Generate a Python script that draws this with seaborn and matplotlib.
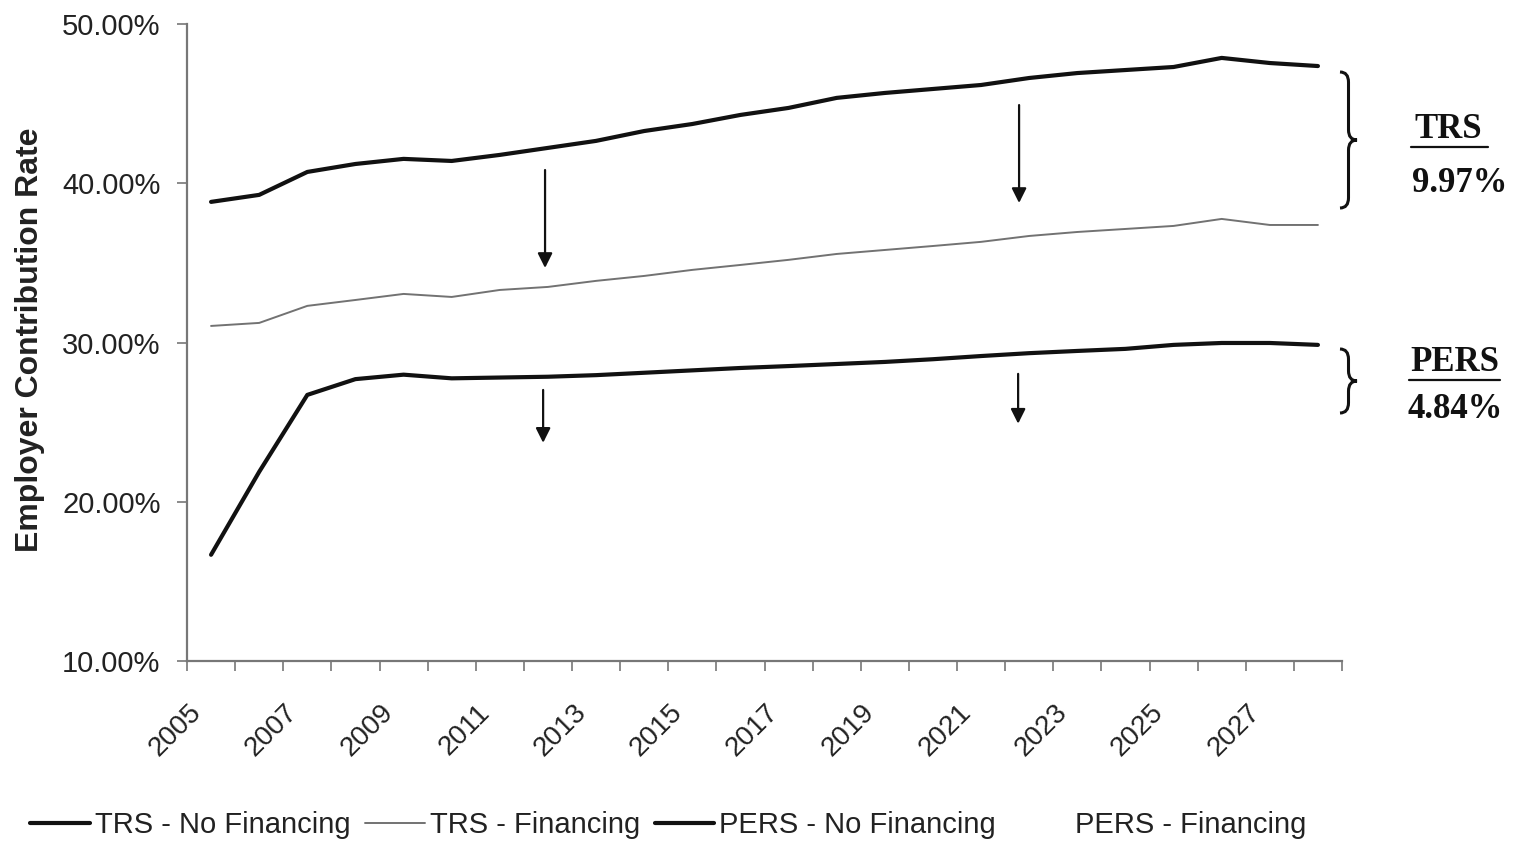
import numpy as np
import pandas as pd
import matplotlib
matplotlib.use("Agg")
import matplotlib.pyplot as plt
import seaborn as sns
from matplotlib.lines import Line2D
from matplotlib.path import Path
from matplotlib.patches import PathPatch
import matplotlib.transforms as mtransforms

# ---------------- data ----------------
years = [str(y) for y in range(2005, 2029)]
trs_no_financing = [38.83, 39.27, 40.71, 41.21, 41.53, 41.40, 41.78, 42.22, 42.66, 43.28,
                    43.72, 44.29, 44.73, 45.36, 45.67, 45.92, 46.17, 46.61, 46.92, 47.11,
                    47.30, 47.87, 47.55, 47.36]
trs_financing = [31.04, 31.23, 32.30, 32.67, 33.05, 32.86, 33.30, 33.49, 33.87, 34.18,
                 34.56, 34.87, 35.19, 35.56, 35.81, 36.06, 36.32, 36.69, 36.94, 37.13,
                 37.32, 37.76, 37.38, 37.38]
pers_no_financing = [16.67, 21.88, 26.71, 27.70, 27.98, 27.75, 27.80, 27.85, 27.95, 28.10,
                     28.25, 28.40, 28.52, 28.65, 28.78, 28.95, 29.15, 29.33, 29.47, 29.60,
                     29.85, 29.97, 29.97, 29.85]
series_labels = ["TRS - No Financing", "TRS - Financing", "PERS - No Financing", "PERS - Financing"]
yticks = [10, 20, 30, 40, 50]
trs_gap_label = "9.97%"
pers_gap_label = "4.84%"

# ---------------- style ----------------
sns.set_theme(style="white")
plt.rcParams["font.family"] = ["Liberation Sans", "DejaVu Sans"]

W, H = 1518, 841
fig = plt.figure(figsize=(W / 100, H / 100), dpi=100)
fig.patch.set_facecolor("white")

def fx(px):
    return px / W

def fy(py):
    return 1 - py / H

ax = fig.add_axes([fx(187), fy(661), fx(1342) - fx(187), fy(24) - fy(661)])
ax.set_facecolor("white")

pos = np.arange(len(years))
df = pd.DataFrame({"pos": pos, "trs_nf": trs_no_financing, "trs_f": trs_financing,
                   "pers_nf": pers_no_financing})

sns.lineplot(data=df, x="pos", y="trs_nf", ax=ax, color="#111111", linewidth=3.0)
sns.lineplot(data=df, x="pos", y="trs_f", ax=ax, color="#727272", linewidth=1.4)
sns.lineplot(data=df, x="pos", y="pers_nf", ax=ax, color="#111111", linewidth=3.0)

ax.set_xlim(-0.5, len(years) - 0.5)
ax.set_ylim(10, 50)

# axes styling
for side in ["top", "right"]:
    ax.spines[side].set_visible(False)
for side in ["left", "bottom"]:
    ax.spines[side].set_color("#777777")
    ax.spines[side].set_linewidth(1.6)

ax.set_yticks(yticks)
ax.set_yticklabels([f"{v:.2f}%" for v in yticks], fontsize=21, color="#222222")
ax.tick_params(axis="y", direction="out", length=7, width=1.2, color="#777777", pad=12, left=True)

ax.set_xticks(pos[::2])
ax.set_xticklabels(years[::2], fontsize=20, color="#222222", rotation=45,
                   ha="right", va="center", rotation_mode="anchor")
ax.set_xticks(np.arange(-0.5, len(years), 1), minor=True)
ax.tick_params(axis="x", which="major", length=0, pad=34, bottom=True)
ax.tick_params(axis="x", which="minor", direction="out", length=7, width=1.2,
               color="#777777", bottom=True)
offset = mtransforms.ScaledTranslation(-14 / 100, 0, fig.dpi_scale_trans)
for lab in ax.get_xticklabels():
    lab.set_transform(lab.get_transform() + offset)

ax.set_xlabel("")
ax.set_ylabel("")
fig.text(fx(30), fy(340), "Employer Contribution Rate", rotation=90, ha="center", va="center",
         fontsize=23, fontweight="bold", color="#222222")

# arrows
arrow_kw = dict(arrowstyle="-|>", color="#111111", lw=1.6, mutation_scale=22, shrinkA=0, shrinkB=0)
for (x, y0, y1) in [(6.94, 40.83, 34.68), (16.79, 44.91, 38.76),
                    (6.90, 27.02, 23.70), (16.77, 28.03, 24.90)]:
    ax.annotate("", xy=(x, y1), xytext=(x, y0), arrowprops=arrow_kw)

# braces
def brace(x, ytop, ybot, w):
    yc = (ytop + ybot) / 2
    d = w * 0.6
    xm = x + w / 2
    verts = [(x, ytop), (xm, ytop), (xm, ytop + d),
             (xm, yc - d), (xm, yc), (x + w, yc),
             (xm, yc), (xm, yc + d),
             (xm, ybot - d), (xm, ybot), (x, ybot)]
    codes = [Path.MOVETO, Path.CURVE3, Path.CURVE3,
             Path.LINETO, Path.CURVE3, Path.CURVE3,
             Path.CURVE3, Path.CURVE3,
             Path.LINETO, Path.CURVE3, Path.CURVE3]
    verts = [(fx(a), fy(b)) for a, b in verts]
    patch = PathPatch(Path(verts, codes), transform=fig.transFigure, fill=False,
                      lw=2.2, edgecolor="#111111")
    fig.add_artist(patch)

brace(1340, 72, 208, 17)
brace(1340, 349, 413, 17)

serif = ["Liberation Serif", "DejaVu Serif"]
fig.text(fx(1448), fy(130), "TRS", ha="center", va="center", fontsize=25,
         fontweight="bold", family=serif, color="#111111")
fig.add_artist(Line2D([fx(1411), fx(1488)], [fy(147), fy(147)], transform=fig.transFigure,
                      color="#111111", lw=1.6))
fig.text(fx(1460), fy(183), trs_gap_label, ha="center", va="center", fontsize=25,
         fontweight="bold", family=serif, color="#111111")
fig.text(fx(1455), fy(362), "PERS", ha="center", va="center", fontsize=25,
         fontweight="bold", family=serif, color="#111111")
fig.add_artist(Line2D([fx(1409), fx(1500)], [fy(380), fy(380)], transform=fig.transFigure,
                      color="#111111", lw=1.6))
fig.text(fx(1455), fy(410), pers_gap_label, ha="center", va="center", fontsize=25,
         fontweight="bold", family=serif, color="#111111")

# legend
handles = [Line2D([], [], color="#111111", lw=3.0),
           Line2D([], [], color="#727272", lw=1.4),
           Line2D([], [], color="#111111", lw=3.0),
           Line2D([], [], color="white", lw=3.0)]
fig.legend(handles, series_labels, loc="center left", bbox_to_anchor=(fx(30), fy(825)),
           ncol=4, frameon=False, fontsize=21, handlelength=2.05, handletextpad=0.17,
           columnspacing=0.5, borderpad=0, borderaxespad=0, labelcolor="#222222")

fig.savefig("out.png", dpi=100, facecolor="white")
